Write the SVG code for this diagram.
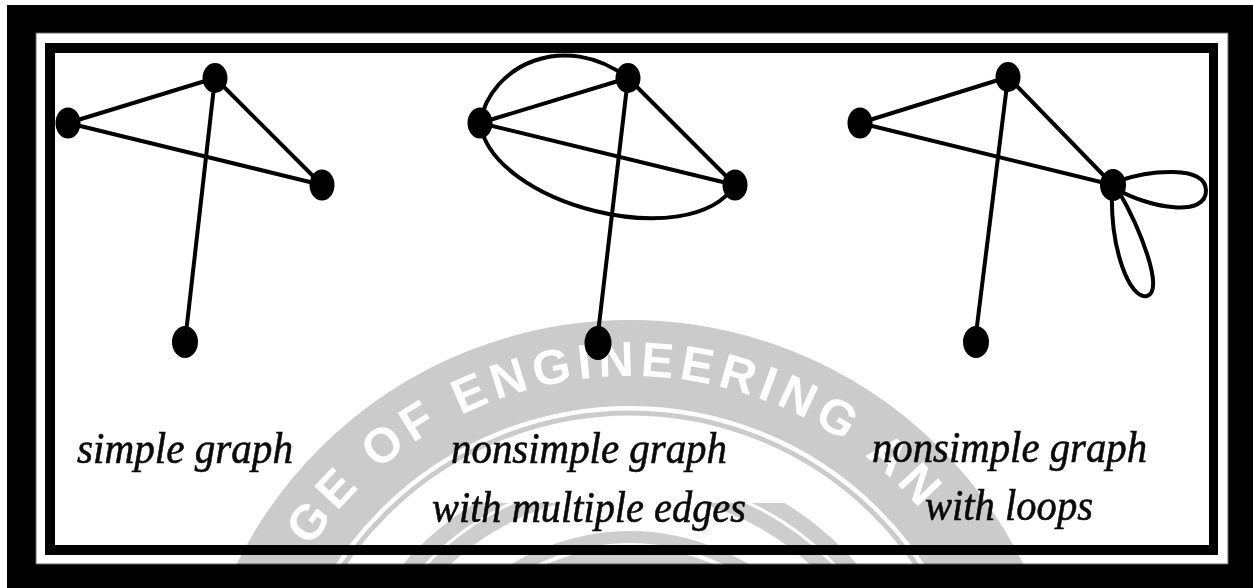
<svg xmlns="http://www.w3.org/2000/svg" width="1253" height="588" viewBox="0 0 1253 588">
  <style>
    .edge { fill: none; stroke: #000; stroke-width: 4; stroke-linecap: round; }
    .node { fill: #000; }
    .label { font-family: "Liberation Serif", "Times New Roman", serif; font-style: italic; font-size: 44px; fill: #0a0a0a; stroke: #0a0a0a; stroke-width: 0.6px; }
    .wm { font-family: "Liberation Sans", Arial, sans-serif; font-weight: bold; font-size: 49px; fill: #fff; letter-spacing: 6px; }
  </style>
  <defs>
    <path id="wmArc" d="M 247 759 A 383 383 0 0 1 1013 759"/>
    <clipPath id="wmLow"><rect x="0" y="503" width="1253" height="85"/></clipPath>
  </defs>

  <!-- frame -->
  <g id="frame">
    <rect x="0" y="0" width="1253" height="588" fill="#fff"/>
    <rect x="7" y="5" width="1246" height="583" fill="#000"/>
    <rect x="36" y="33" width="1192" height="531" fill="#fff" stroke="#666" stroke-width="1"/>
    <rect x="45" y="43" width="1173" height="512" fill="#000"/>
    <rect x="55" y="53" width="1154" height="492" fill="#fff"/>
  </g>

  <!-- watermark -->
  <g id="watermark" style="mix-blend-mode:multiply">
    <circle cx="630" cy="759" r="396" fill="none" stroke="#cbcbcb" stroke-width="86"/>
    <circle cx="630" cy="759" r="346" fill="none" stroke="#cbcbcb" stroke-width="5"/>
    <g clip-path="url(#wmLow)">
      <circle cx="630" cy="759" r="282" fill="none" stroke="#cdcdcd" stroke-width="34"/>
      <circle cx="630" cy="759" r="282" fill="none" stroke="#fff" stroke-width="3"/>
      <circle cx="630" cy="759" r="228" fill="#cdcdcd"/>
      <circle cx="630" cy="759" r="214" fill="none" stroke="#fff" stroke-width="4"/>
    </g>
    <text class="wm"><textPath href="#wmArc" startOffset="224">GE OF ENGINEERING AN</textPath></text>
  </g>

  <!-- connectors -->
  <g id="connectors">
    <!-- simple graph -->
    <line class="edge" x1="68" y1="123" x2="215" y2="78"/>
    <line class="edge" x1="215" y1="78" x2="322" y2="185"/>
    <line class="edge" x1="68" y1="123" x2="322" y2="185"/>
    <line class="edge" x1="215" y1="78" x2="185" y2="342"/>
    <!-- multiple edges graph -->
    <line class="edge" x1="480" y1="123" x2="628" y2="78"/>
    <line class="edge" x1="628" y1="78" x2="735" y2="185"/>
    <line class="edge" x1="480" y1="123" x2="735" y2="185"/>
    <line class="edge" x1="628" y1="78" x2="597" y2="342"/>
    <path class="edge" d="M 480 123 C 490 65 565 30 628 78"/>
    <path class="edge" d="M 480 123 C 492 205 690 255 735 185"/>
    <!-- loops graph -->
    <line class="edge" x1="860" y1="123" x2="1008" y2="77"/>
    <line class="edge" x1="1008" y1="77" x2="1113" y2="185"/>
    <line class="edge" x1="860" y1="123" x2="1113" y2="185"/>
    <line class="edge" x1="1008" y1="77" x2="975" y2="342"/>
    <path class="edge" d="M 1118 181 C 1150 170 1205 165 1206 190 C 1207 218 1150 208 1118 190"/>
    <path class="edge" d="M 1112 190 C 1110 250 1130 300 1147 296 C 1165 291 1140 228 1118 190"/>
  </g>

  <!-- simple graph nodes -->
  <g id="g1-top"><ellipse class="node" cx="215" cy="78" rx="12.5" ry="15"/></g>
  <g id="g1-left"><ellipse class="node" cx="68" cy="123" rx="12.5" ry="15.5"/></g>
  <g id="g1-right"><ellipse class="node" cx="322" cy="185" rx="12.5" ry="15.5"/></g>
  <g id="g1-bottom"><ellipse class="node" cx="185" cy="342" rx="13" ry="16"/></g>

  <!-- multiple edges graph nodes -->
  <g id="g2-top"><ellipse class="node" cx="628" cy="78" rx="12.5" ry="15"/></g>
  <g id="g2-left"><ellipse class="node" cx="480" cy="123" rx="12.5" ry="15.5"/></g>
  <g id="g2-right"><ellipse class="node" cx="735" cy="185" rx="12.5" ry="15.5"/></g>
  <g id="g2-bottom"><ellipse class="node" cx="598" cy="343" rx="13.5" ry="17"/></g>

  <!-- loops graph nodes -->
  <g id="g3-top"><ellipse class="node" cx="1008" cy="77" rx="12.5" ry="15"/></g>
  <g id="g3-left"><ellipse class="node" cx="860" cy="123" rx="12.5" ry="15.5"/></g>
  <g id="g3-right"><ellipse class="node" cx="1113" cy="185" rx="13" ry="16"/></g>
  <g id="g3-bottom"><ellipse class="node" cx="976" cy="342" rx="13" ry="16"/></g>

  <!-- labels -->
  <g id="labels">
    <text class="label" x="77" y="463" textLength="216" lengthAdjust="spacingAndGlyphs">simple graph</text>
    <text class="label" x="451" y="463" textLength="276" lengthAdjust="spacingAndGlyphs">nonsimple graph</text>
    <text class="label" x="432" y="522" textLength="314" lengthAdjust="spacingAndGlyphs">with multiple edges</text>
    <text class="label" x="872" y="462" textLength="275" lengthAdjust="spacingAndGlyphs">nonsimple graph</text>
    <text class="label" x="925" y="520" textLength="168" lengthAdjust="spacingAndGlyphs">with loops</text>
  </g>
</svg>
